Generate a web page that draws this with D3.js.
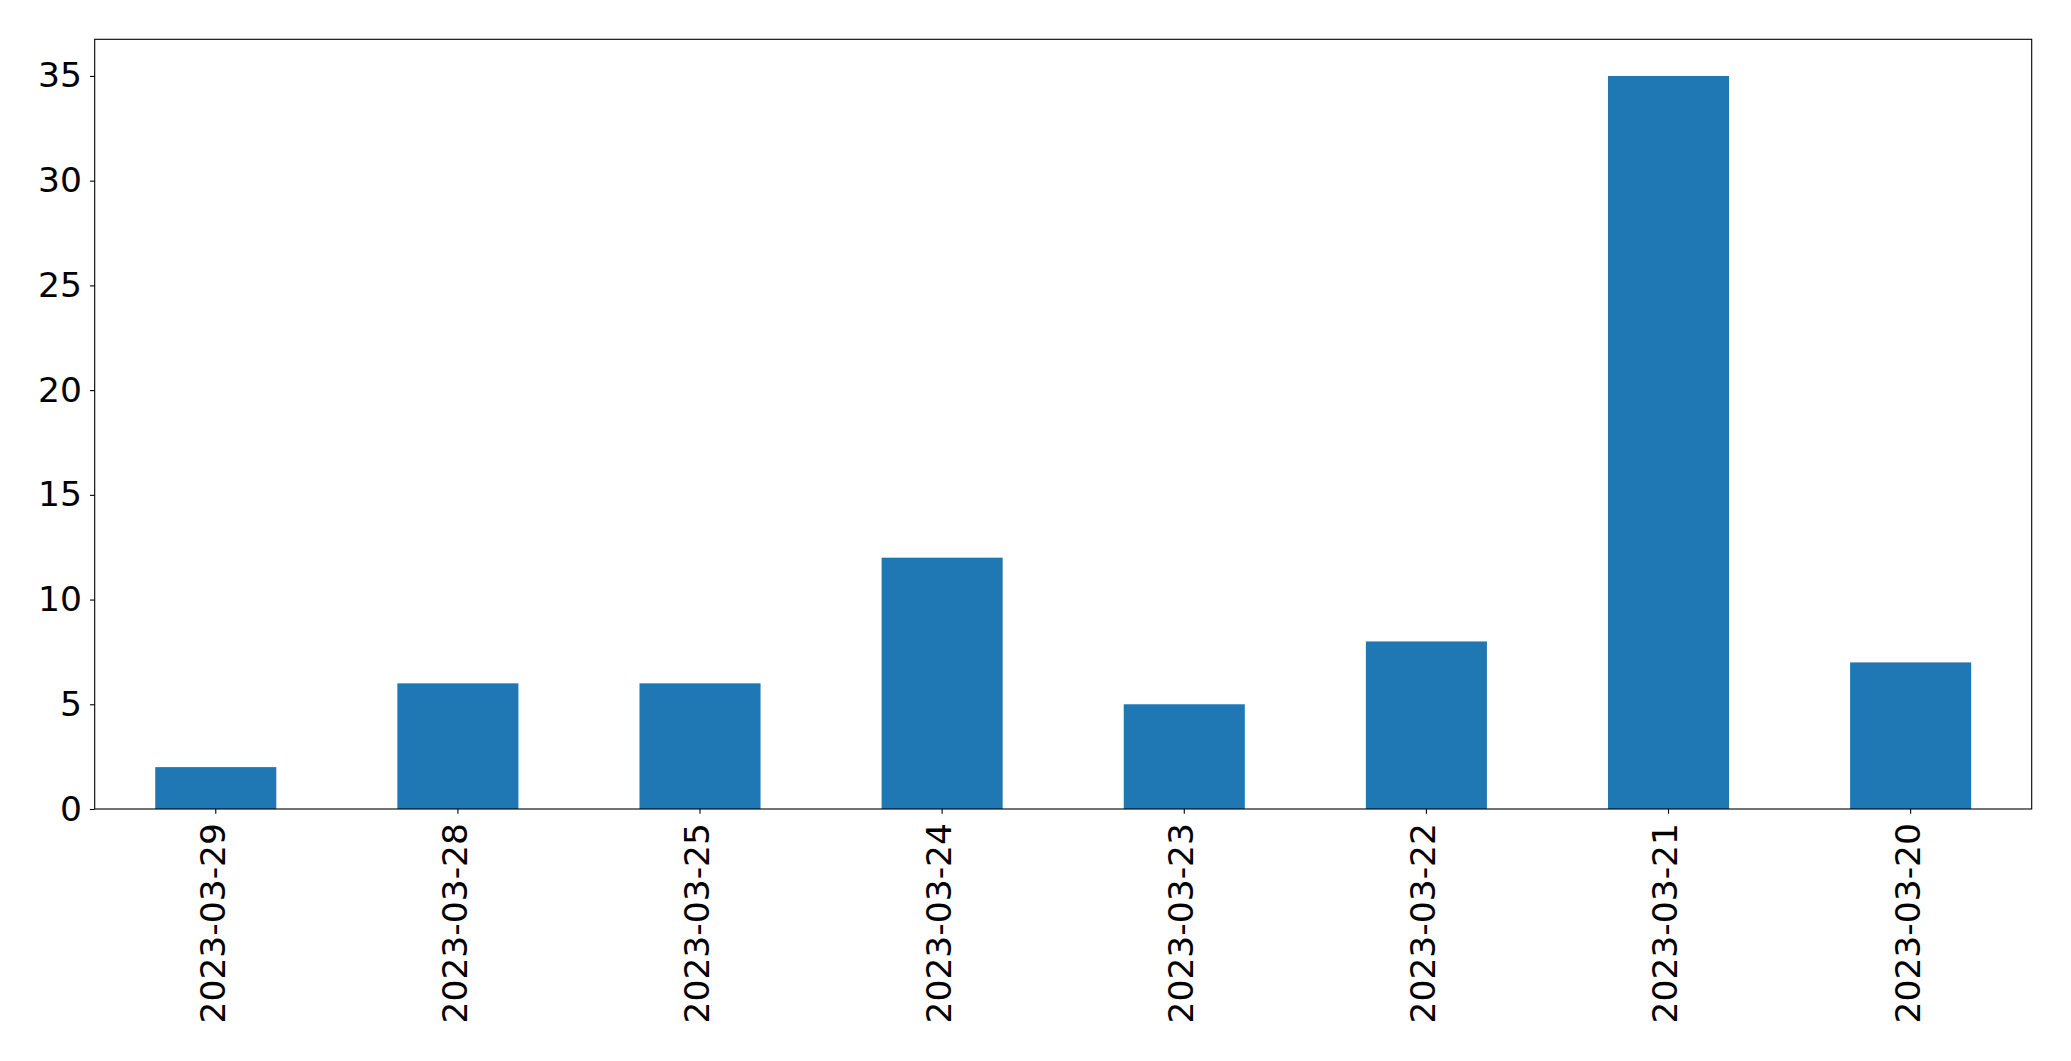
<!DOCTYPE html>
<html><head><meta charset="utf-8">
<script src="https://cdn.jsdelivr.net/npm/d3@7"></script>
<style>body{margin:0;background:#fff}svg{display:block}</style>
</head><body>
<script>
const categories = ["2023-03-29","2023-03-28","2023-03-25","2023-03-24","2023-03-23","2023-03-22","2023-03-21","2023-03-20"];
const values = [2, 6, 6, 12, 5, 8, 35, 7];
const yTicks = [0, 5, 10, 15, 20, 25, 30, 35];

const W = 2071, H = 1061;
const m = {left: 94.7, right: W - 2031.7, top: 39.3, bottom: H - 809};
const svg = d3.select("body").append("svg").attr("width", W).attr("height", H);
const iw = W - m.left - m.right, ih = H - m.top - m.bottom;
const g = svg.append("g").attr("transform", `translate(${m.left},${m.top})`);

const x = d3.scaleBand().domain(categories).range([0, iw]).paddingInner(0.5).paddingOuter(0.25);
const ymax = d3.max(values) * 1.05;
const y = d3.scaleLinear().domain([0, ymax]).range([ih, 0]);

g.selectAll("rect.bar").data(values).join("rect")
  .attr("class", "bar")
  .attr("x", (d, i) => x(categories[i]))
  .attr("y", d => y(d))
  .attr("width", x.bandwidth())
  .attr("height", d => y(0) - y(d))
  .attr("fill", "#1f77b4");

const font = "DejaVu Sans, sans-serif";
const fs = 34.5;

const yAxis = g.append("g").call(d3.axisLeft(y).tickValues(yTicks).tickSize(4.7).tickPadding(8).tickFormat(d3.format("d")));
yAxis.select(".domain").remove();
yAxis.selectAll("line").attr("stroke", "#000").attr("stroke-width", 1.1);
yAxis.selectAll("text").attr("font-family", font).attr("font-size", fs).attr("fill", "#000");

const xAxis = g.append("g").attr("transform", `translate(0,${ih})`)
  .call(d3.axisBottom(x).tickSize(4.7).tickPadding(0));
xAxis.select(".domain").remove();
xAxis.selectAll("line").attr("stroke", "#000").attr("stroke-width", 1.1);
xAxis.selectAll("text")
  .attr("font-family", font).attr("font-size", fs).attr("fill", "#000")
  .attr("text-anchor", "end")
  .attr("dy", "0.26em")
  .attr("transform", "translate(0,14) rotate(-90)")
  .attr("x", 0).attr("y", 0);

g.append("rect").attr("x", 0).attr("y", 0).attr("width", iw).attr("height", ih)
  .attr("fill", "none").attr("stroke", "#000").attr("stroke-width", 1.1);
</script>
</body></html>
